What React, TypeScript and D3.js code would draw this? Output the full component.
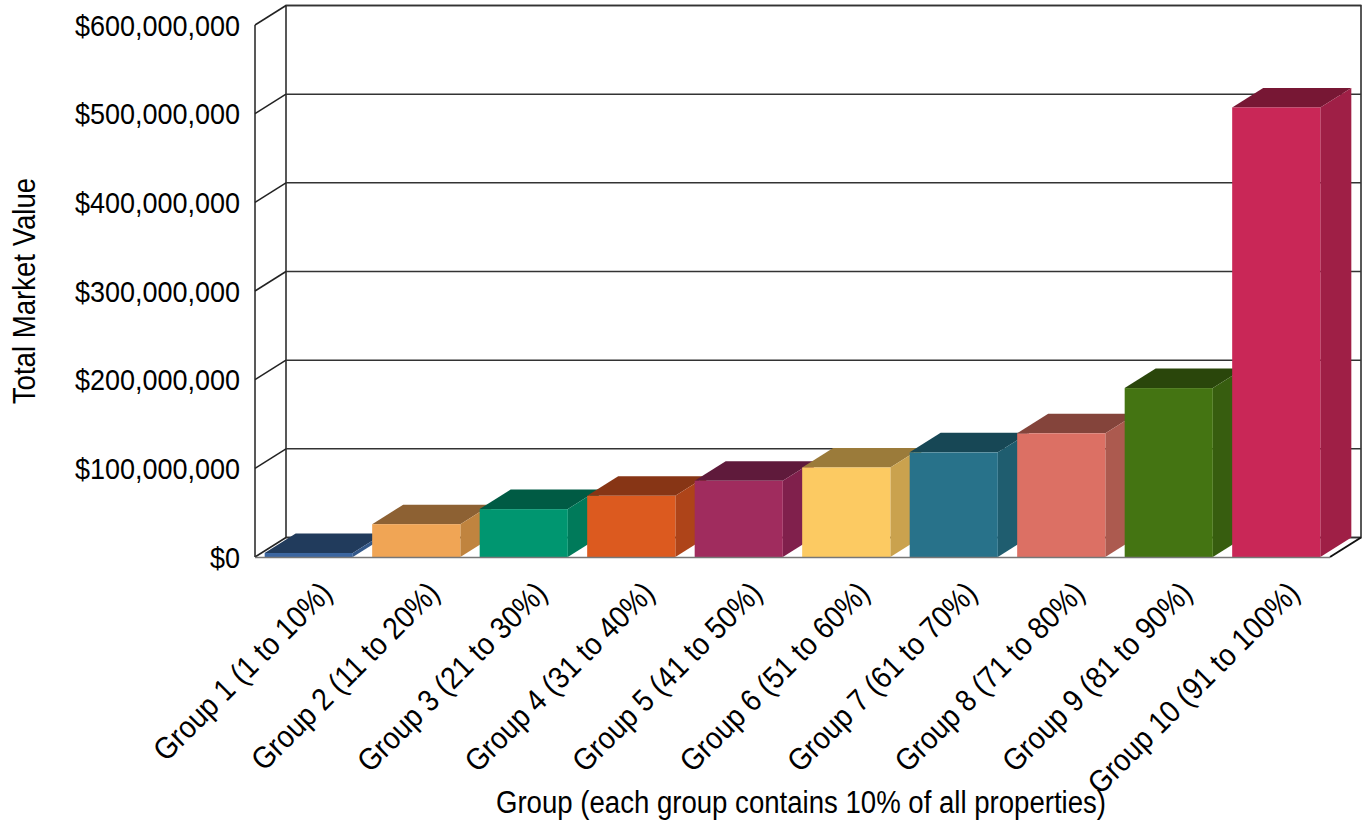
import React from "react";
import * as d3 from "d3";

const categories = [
  "Group 1 (1 to 10%)",
  "Group 2 (11 to 20%)",
  "Group 3 (21 to 30%)",
  "Group 4 (31 to 40%)",
  "Group 5 (41 to 50%)",
  "Group 6 (51 to 60%)",
  "Group 7 (61 to 70%)",
  "Group 8 (71 to 80%)",
  "Group 9 (81 to 90%)",
  "Group 10 (91 to 100%)",
];
const values = [4.5e6, 37e6, 54e6, 69e6, 86e6, 101e6, 118e6, 139.5e6, 190.5e6, 507e6];
const yTicks = [0, 1e8, 2e8, 3e8, 4e8, 5e8, 6e8];
const frontColors = ["#3c66a0", "#f0a555", "#009670", "#dc5a1f", "#a02c5e", "#fcca62", "#28728a", "#dc7064", "#447412", "#c92757"];
const topColors = ["#213b5c", "#8d6133", "#005b44", "#873515", "#5f1a3b", "#9b7b3a", "#174755", "#84443b", "#2a460b", "#771734"];
const sideColors = ["#335889", "#c0843f", "#007a5a", "#ae4419", "#80204c", "#caa24e", "#1f5d6f", "#ac5a4f", "#375d0f", "#9f1f46"];

const W = 1365;
const H = 829;
const X0 = 255;
const X1 = 1330;
const YB = 557;
const YT = 25;
const DX = 31;
const DY = -19.5;
const FONT = "'Liberation Sans', Arial, sans-serif";

export default function App() {
  const x = d3.scaleBand<string>().domain(categories).range([X0, X1]).paddingInner(0.18).paddingOuter(0.09);
  const y = d3.scaleLinear().domain([0, 6e8]).range([YB, YT]);
  const fmt = (v: number) => "$" + d3.format(",")(v);
  const bw = x.bandwidth();
  const pts = (arr: [number, number][]) => arr.map((p) => p.join(",")).join(" ");

  return (
    <svg width={W} height={H} style={{ position: "absolute", left: 0, top: 0, background: "#fff" }}>
      {/* back wall */}
      <rect x={X0 + DX} y={YT + DY} width={X1 - X0} height={YB - YT} fill="#fff" stroke="#222" strokeWidth={1.5} />
      {/* gridlines */}
      {yTicks.map((t) => (
        <g key={t}>
          <line x1={X0 + DX} x2={X1 + DX} y1={y(t) + DY} y2={y(t) + DY} stroke="#333" strokeWidth={1.5} />
          <line x1={X0} x2={X0 + DX} y1={y(t)} y2={y(t) + DY} stroke="#222" strokeWidth={1.5} />
        </g>
      ))}
      {/* left wall */}
      <line x1={X0} x2={X0} y1={YT} y2={YB} stroke="#222" strokeWidth={1.5} />
      {/* floor */}
      <line x1={X1} x2={X1 + DX} y1={YB} y2={YB + DY} stroke="#111" strokeWidth={2} />
      {/* bars */}
      {categories.map((c, i) => {
        const x0 = x(c)!;
        const x1 = x0 + bw;
        const yt = y(values[i]);
        return (
          <g key={c}>
            <polygon points={pts([[x0, yt], [x0 + DX, yt + DY], [x1 + DX, yt + DY], [x1, yt]])} fill={topColors[i]} />
            <polygon points={pts([[x1, yt], [x1 + DX, yt + DY], [x1 + DX, YB + DY], [x1, YB]])} fill={sideColors[i]} />
            <rect x={x0} y={yt} width={bw} height={YB - yt} fill={frontColors[i]} />
          </g>
        );
      })}
      <line x1={X0} x2={X1} y1={YB + 0.5} y2={YB + 0.5} stroke="#777" strokeWidth={1.5} />
      {/* y tick labels */}
      {yTicks.map((t) => (
        <g key={"l" + t} transform={`translate(240,${y(t)}) scale(0.9,1)`}>
          <text textAnchor="end" dy="0.36em" fontFamily={FONT} fontSize={30} fill="#000">
            {fmt(t)}
          </text>
        </g>
      ))}
      {/* x tick labels */}
      {categories.map((c) => (
        <g key={"x" + c} transform={`translate(${x(c)! + bw / 2 + 25},595) rotate(-45) scale(0.9,1)`}>
          <text textAnchor="end" fontFamily={FONT} fontSize={31} fill="#000">
            {c}
          </text>
        </g>
      ))}
      {/* axis titles */}
      <g transform="translate(801,813) scale(0.89,1)">
        <text textAnchor="middle" fontFamily={FONT} fontSize={31} fill="#000">
          Group (each group contains 10% of all properties)
        </text>
      </g>
      <g transform="translate(35,291) rotate(-90) scale(0.89,1)">
        <text textAnchor="middle" fontFamily={FONT} fontSize={31} fill="#000">
          Total Market Value
        </text>
      </g>
    </svg>
  );
}
